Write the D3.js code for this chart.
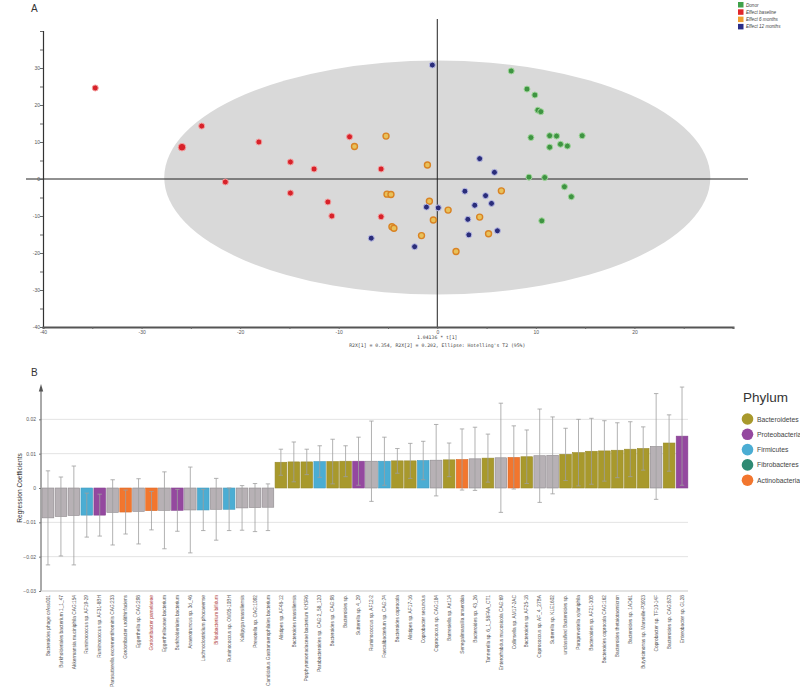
<!DOCTYPE html>
<html>
<head>
<meta charset="utf-8">
<script src="https://cdn.jsdelivr.net/npm/d3@7"></script>
<style>
  body { margin: 0; background: #fff; }
  svg { display: block; font-family: "Liberation Sans", Arial, sans-serif; }
</style>
</head>
<body>
<svg id="chart" width="800" height="695"></svg>
<script>
// ---- panel A: score plot data ----
const groups = ["Donor", "Effect baseline", "Effect 6 months", "Effect 12 months"];
const donorX = [7.5, 9.1, 9.9, 10.2, 10.5, 9.5, 11.4, 12.1, 14.7, 12.5, 11.4, 13.2, 9.3, 10.9, 12.9, 13.6, 10.6];
const donorY = [29.2, 24.3, 22.7, 18.6, 18.2, 11.2, 11.7, 11.6, 11.7, 9.4, 8.6, 8.9, 0.5, 0.4, -2.1, -4.8, -11.3];
const baseX = [-34.7, -23.9, -25.9, -18.1, -14.9, -12.5, -21.5, -14.9, -11.1, -10.7, -8.9, -5.7, -5.7];
const baseY = [24.6, 14.3, 8.6, 10.0, 4.6, 2.7, -0.8, -3.8, -6.2, -10.0, 11.4, 2.7, -10.2];
const m6X = [-5.2, -8.4, -5.1, -4.7, -4.6, -4.4, -1.0, 6.5, -0.8, 1.1, 4.3, -0.4, 5.2, -1.6, 1.9];
const m6Y = [11.6, 8.8, -4.1, -4.2, -12.9, -13.3, 3.8, -3.2, -6.0, -8.4, -10.3, -11.1, -14.8, -15.3, -19.6];
const m12X = [-6.7, -0.5, 4.3, 5.8, 2.8, 4.9, 5.5, 3.8, -1.1, 0.1, 3.1, 6.1, 3.2, -2.3];
const m12Y = [-16.0, 30.8, 5.5, 1.8, -3.3, -4.5, -6.6, -7.1, -7.6, -7.8, -10.9, -14.0, -15.1, -18.3];

// ---- panel B: regression coefficients ----
const taxa = [
  "Bacteroides phage crAss001", "Burkholderiales bacterium 1_1_47", "Akkermansia muciniphila CAG:154",
  "Ruminococcus sp. AF19-29", "Ruminococcus sp. AF31-8BH", "Parasutterella excrementihominis CAG:233",
  "Gordonibacter urolithinfaciens", "Eggerthella sp. CAG:298", "Gordonibacter pamelaeae",
  "Eggerthellaceae bacterium", "Burkholderiales bacterium", "Anaerotruncus sp. 3d_46",
  "Lachnoclostridium phocaeense", "Bifidobacterium bifidum", "Ruminococcus sp. OM05-10BH",
  "Kallipyga massiliensis", "Prevotella sp. CAG:1092", "Candidatus Gastranaerophilales bacterium",
  "Alistipes sp. AF48-12", "Bacteroides massiliensis", "Porphyromonadaceae bacterium KH3R6",
  "Parabacteroides sp. CAG:2_58_120", "Bacteroides sp. CAG:98", "Bacteroides sp.",
  "Sutterella sp. 4_29", "Ruminococcus sp. AF12-2", "Faecalibacterium sp. CAG:74",
  "Bacteroides coprocola", "Alistipes sp. AF17-16", "Coprobacter secundus",
  "Coprococcus sp. CAG:184", "Barnesiella sp. An114", "Senegalimassilia anaerobia",
  "Bacteroides sp. 43_26", "Tannerella sp. 6_1_58FAA_CT1", "Enterorhabdus mucosicola CAG:69",
  "Collinsella sp. AM17-2AC", "Bacteroides sp. AF25-18", "Coprococcus sp. AF_4_27BA",
  "Sutterella sp. KLE1602", "unclassified Bacteroides sp.", "Paraprevotella xylaniphila",
  "Bacteroides sp. AF21-30B", "Bacteroides coprocola CAG:162", "Bacteroides thetaiotaomicron",
  "Bacteroides sp. 1AD61", "Butyricimonas sp. Marseille-P3923", "Coprobacter sp. TF10-14F",
  "Bacteroides sp. CAG:873", "Enterobacter sp. GL28"
];
const coef = [
  -0.0087, -0.0083, -0.0080, -0.0079, -0.0079, -0.0071, -0.0070, -0.0068, -0.0066, -0.0065,
  -0.0065, -0.0064, -0.0064, -0.0062, -0.0062, -0.0058, -0.0057, -0.0056,
  0.0075, 0.0076, 0.0076, 0.0077, 0.0077, 0.0078, 0.0078, 0.0078, 0.0078, 0.0079,
  0.0079, 0.0080, 0.0081, 0.0082, 0.0083, 0.0085, 0.0087, 0.0088, 0.0089, 0.0091,
  0.0094, 0.0095, 0.0098, 0.0103, 0.0107, 0.0108, 0.0110, 0.0113, 0.0115, 0.0121,
  0.0131, 0.0151
];
const ci = [
  0.0137, 0.0115, 0.0144, 0.0064, 0.0061, 0.0095, 0.0064, 0.0095, 0.0056, 0.0112,
  0.0061, 0.0125, 0.0060, 0.0090, 0.0062, 0.0065, 0.0070, 0.0068,
  0.0038, 0.0058, 0.0037, 0.0046, 0.0065, 0.0045, 0.0070, 0.0117, 0.0070, 0.0036,
  0.0051, 0.0056, 0.0104, 0.0049, 0.0089, 0.0092, 0.0070, 0.0159, 0.0092, 0.0078,
  0.0136, 0.0112, 0.0076, 0.0097, 0.0096, 0.0088, 0.0080, 0.0080, 0.0063, 0.0154,
  0.0082, 0.0143
];
const phylumOf = [
  "", "", "", "Firmicutes", "Proteobacteria", "", "Actinobacteria", "", "Actinobacteria", "",
  "Proteobacteria", "", "Firmicutes", "", "Firmicutes", "", "", "",
  "Bacteroidetes", "Bacteroidetes", "Bacteroidetes", "Firmicutes", "Bacteroidetes", "Bacteroidetes",
  "Proteobacteria", "", "Firmicutes", "Bacteroidetes", "Bacteroidetes", "Firmicutes",
  "", "Bacteroidetes", "Actinobacteria", "", "Bacteroidetes", "",
  "Actinobacteria", "Bacteroidetes", "", "", "Bacteroidetes", "Bacteroidetes",
  "Bacteroidetes", "Bacteroidetes", "Bacteroidetes", "Bacteroidetes", "Bacteroidetes", "",
  "Bacteroidetes", "Proteobacteria"
];
const redLabels = [8, 13];
const phyla = ["Bacteroidetes", "Proteobacteria", "Firmicutes", "Fibrobacteres", "Actinobacteria"];
const coefTicks = [-0.03, -0.02, -0.01, 0, 0.01, 0.02];

const svg = d3.select("#chart");

// ================= Panel A =================
const gA = svg.append("g");
const x = d3.scaleLinear().domain([-40, 30]).range([43, 733]);
const y = d3.scaleLinear().domain([-40, 40]).range([327, 31]);

gA.append("text").attr("x", 31).attr("y", 12).attr("font-size", 10).attr("fill", "#333").text("A");

gA.append("ellipse")
  .attr("cx", x(0)).attr("cy", y(0.4))
  .attr("rx", x(27.7) - x(0)).attr("ry", y(0) - y(31.6))
  .attr("fill", "#d9d9d9");

// zero lines
gA.append("line").attr("x1", 26).attr("x2", 748).attr("y1", y(0)).attr("y2", y(0))
  .attr("stroke", "#222").attr("stroke-width", 1);
gA.append("line").attr("x1", x(0)).attr("x2", x(0)).attr("y1", 19).attr("y2", y(-40))
  .attr("stroke", "#222").attr("stroke-width", 1);

// axes
const yAx = gA.append("g").attr("transform", `translate(${x(-40)},0)`)
  .call(d3.axisLeft(y).tickValues(d3.range(-40, 41, 5)).tickSize(3).tickFormat(d => d % 10 === 0 && d < 40 ? d : ""));
const xAx = gA.append("g").attr("transform", `translate(0,${y(-40)})`)
  .call(d3.axisBottom(x).tickValues(d3.range(-40, 31, 5)).tickSize(2).tickFormat(d => d % 10 === 0 && d < 30 ? d : ""));
[yAx, xAx].forEach(a => {
  a.select(".domain").attr("stroke", "#333");
  a.selectAll(".tick line").attr("stroke", "#666");
  a.selectAll("text").attr("font-size", 5).attr("fill", "#555");
});
yAx.select(".domain").attr("stroke-width", 1.2);
xAx.select(".domain").attr("stroke", "#555").attr("stroke-width", 2);
yAx.selectAll("text").attr("x", -3);
xAx.selectAll("text").attr("y", 3);

gA.append("text").attr("x", x(0)).attr("y", 339).attr("text-anchor", "middle")
  .attr("font-family", "DejaVu Sans Mono, monospace").attr("font-size", 4.8).attr("fill", "#444")
  .text("1.04136 * t[1]");
gA.append("text").attr("x", x(0)).attr("y", 347).attr("text-anchor", "middle")
  .attr("font-family", "DejaVu Sans Mono, monospace").attr("font-size", 4.8).attr("fill", "#444")
  .text("R2X[1] = 0.354, R2X[2] = 0.202, Ellipse: Hotelling's T2 (95%)");

const groupStyle = {
  "Donor": { fill: "#3f9442", stroke: "#9fd69a", sw: 1 },
  "Effect baseline": { fill: "#d7222a", stroke: "#f3a0a0", sw: 1 },
  "Effect 6 months": { fill: "#e8c15a", stroke: "#d98324", sw: 1.4 },
  "Effect 12 months": { fill: "#2a2d7a", stroke: "#b9bbe6", sw: 1 }
};
const legendColor = { "Donor": "#3fa24a", "Effect baseline": "#e0262a", "Effect 6 months": "#f0a030", "Effect 12 months": "#2a2d88" };

const pts = [];
[[donorX, donorY, "Donor"], [baseX, baseY, "Effect baseline"], [m6X, m6Y, "Effect 6 months"], [m12X, m12Y, "Effect 12 months"]]
  .forEach(([xs, ys, g]) => xs.forEach((v, i) => pts.push({ x: v, y: ys[i], g })));

gA.selectAll(".pt").data(pts).enter().append("circle")
  .attr("class", "pt")
  .attr("cx", d => x(d.x)).attr("cy", d => y(d.y))
  .attr("r", d => (d.g === "Effect baseline" && d.x === -25.9) ? 3.8 : 3)
  .attr("fill", d => groupStyle[d.g].fill)
  .attr("stroke", d => groupStyle[d.g].stroke)
  .attr("stroke-width", d => groupStyle[d.g].sw);

const legA = gA.append("g").attr("transform", "translate(738,2)");
groups.forEach((g, i) => {
  legA.append("rect").attr("x", 0).attr("y", i * 7.3).attr("width", 5.5).attr("height", 5.5).attr("fill", legendColor[g]);
  legA.append("text").attr("x", 8).attr("y", i * 7.3 + 4.5).attr("font-size", 4.6)
    .attr("font-style", "italic").attr("fill", "#444").text(g);
});

// ================= Panel B =================
const gB = svg.append("g");
// index domain: some taxon names could repeat
const xb = d3.scaleBand().domain(d3.range(taxa.length)).range([41.5, 688.5]).paddingInner(0.1).paddingOuter(0.05);
const yb = d3.scaleLinear().domain([-0.03, 0.03]).range([591, 385]);
const phylumColor = d3.scaleOrdinal().domain(phyla)
  .range(["#a8992c", "#94489f", "#4badd3", "#2f8a73", "#f2762e"]);
const greyBar = "#b7b1b5";

gB.append("text").attr("x", 31).attr("y", 376).attr("font-size", 10).attr("fill", "#333").text("B");

gB.selectAll(".grid").data(coefTicks.filter(t => t !== -0.03 && t !== 0)).enter().append("line")
  .attr("x1", 41).attr("x2", 688).attr("y1", d => yb(d)).attr("y2", d => yb(d))
  .attr("stroke", "#e3e3e3").attr("stroke-width", 1);

const yAxB = gB.append("g").attr("transform", "translate(41,0)")
  .call(d3.axisLeft(yb).tickValues(coefTicks).tickSize(2).tickFormat(d => d === 0 ? "0" : d3.format(".2f")(d)));
yAxB.select(".domain").attr("stroke", "#555").attr("d", `M0,${yb(-0.03)}V${yb(0.029)}`);
yAxB.selectAll(".tick line").attr("stroke", "#777");
yAxB.selectAll("text").attr("font-size", 5).attr("fill", "#555");
gB.append("path").attr("d", `M38.8,${yb(0.029) + 3}L41,${yb(0.03) - 1}L43.2,${yb(0.029) + 3}Z`).attr("fill", "#555");

gB.append("line").attr("x1", 41).attr("x2", 688).attr("y1", yb(-0.03)).attr("y2", yb(-0.03))
  .attr("stroke", "#c8c8c8").attr("stroke-width", 1.2);

gB.append("text").attr("transform", `translate(22,${yb(0)}) rotate(-90)`)
  .attr("text-anchor", "middle").attr("font-size", 6.6).attr("fill", "#333").text("Regression Coefficients");

const bars = taxa.map((t, i) => ({ t, v: coef[i], e: ci[i], p: phylumOf[i], i }));

gB.selectAll(".bar").data(bars).enter().append("rect")
  .attr("class", "bar")
  .attr("x", d => xb(d.i)).attr("width", xb.bandwidth())
  .attr("y", d => yb(Math.max(0, d.v))).attr("height", d => Math.abs(yb(d.v) - yb(0)))
  .attr("fill", d => d.p ? phylumColor(d.p) : greyBar)
  .attr("stroke", d => d.p ? d3.color(phylumColor(d.p)).darker(0.3) : "#8e898d")
  .attr("stroke-width", 0.6);

const eb = gB.selectAll(".eb").data(bars).enter().append("g").attr("class", "eb")
  .attr("transform", d => `translate(${xb(d.i) + xb.bandwidth() / 2},0)`)
  .attr("stroke", "#9e9e9e").attr("stroke-width", 0.8);
eb.append("line").attr("y1", d => yb(d.v - d.e)).attr("y2", d => yb(d.v + d.e));
eb.append("line").attr("x1", -2.2).attr("x2", 2.2).attr("y1", d => yb(d.v + d.e)).attr("y2", d => yb(d.v + d.e));
eb.append("line").attr("x1", -2.2).attr("x2", 2.2).attr("y1", d => yb(d.v - d.e)).attr("y2", d => yb(d.v - d.e));

gB.selectAll(".xl").data(bars).enter().append("text")
  .attr("class", "xl")
  .attr("transform", d => `translate(${xb(d.i) + xb.bandwidth() / 2 + 1.7},595) rotate(-90)`)
  .attr("text-anchor", "end").attr("font-size", 4.8)
  .attr("fill", d => redLabels.includes(d.i) ? "#b0413e" : "#555")
  .text(d => d.t);

// Phylum legend
const legB = gB.append("g").attr("transform", "translate(743,0)");
legB.append("text").attr("x", 0).attr("y", 402).attr("font-size", 13.5).attr("fill", "#333").text("Phylum");
phyla.forEach((p, i) => {
  legB.append("circle").attr("cx", 4.5).attr("cy", 419 + i * 15.3).attr("r", 5.8).attr("fill", phylumColor(p));
  legB.append("text").attr("x", 14).attr("y", 421.5 + i * 15.3).attr("font-size", 6.8).attr("fill", "#444").text(p);
});
</script>
</body>
</html>
